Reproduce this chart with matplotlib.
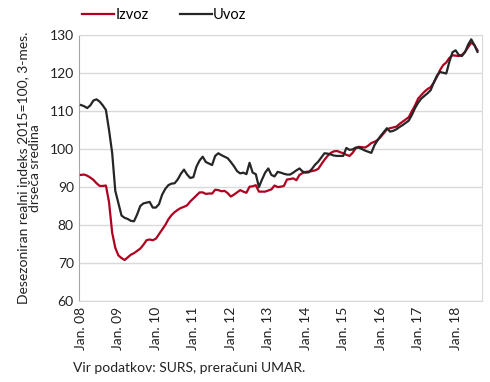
import matplotlib
matplotlib.use("Agg")
import matplotlib.pyplot as plt
import numpy as np

plt.rcParams['font.family'] = ['Lato', 'DejaVu Sans']

years = ["08", "09", "10", "11", "12", "13", "14", "15", "16", "17", "18"]
tick_labels = ["Jan. " + y for y in years]

izvoz = [93.2, 93.3, 93.0, 92.5, 91.9, 91.0, 90.3, 90.3, 90.4, 86.0,
         78.0, 74.0, 72.0, 71.3, 70.8, 71.5, 72.2, 72.6, 73.2, 73.8,
         74.8, 76.0, 76.2, 76.0, 76.4, 77.6, 78.8, 80.0, 81.5, 82.6,
         83.4, 84.0, 84.5, 84.8, 85.2, 86.2, 87.0, 87.8, 88.6, 88.6,
         88.2, 88.3, 88.3, 89.3, 89.2, 88.9, 89.0, 88.4, 87.5, 88.0,
         88.6, 89.2, 88.8, 88.5, 90.1, 90.2, 90.5, 88.8, 88.8, 88.8,
         89.1, 89.4, 90.4, 90.0, 90.1, 90.3, 92.0, 92.1, 92.3, 91.8,
         93.2, 93.7, 94.0, 94.1, 94.2, 94.4, 94.8, 96.0, 97.2, 98.2,
         99.0, 99.4, 99.5, 99.2, 98.9, 98.5, 98.2, 99.0, 100.2, 100.6,
         100.5, 100.4, 100.9, 101.6, 101.9, 102.4, 103.2, 104.2, 105.2, 105.5,
         105.7, 105.9, 106.6, 107.2, 107.8, 108.4, 110.0, 111.5, 113.3, 114.2,
         115.1, 115.8, 116.3, 117.5, 119.0, 120.8, 122.1, 122.8, 124.0, 124.7,
         124.6, 124.5, 124.8, 125.6, 126.8, 128.0, 127.4, 126.0]

uvoz = [111.6, 111.3, 110.8, 111.5, 112.8, 113.1, 112.5, 111.5, 110.3, 105.0,
        99.0, 89.0, 85.8, 82.5, 81.9, 81.6, 81.1, 81.0, 82.8, 85.0,
        85.7, 85.9, 86.1, 84.6, 84.6, 85.5, 88.0, 89.5, 90.5, 90.9,
        91.0, 92.0, 93.5, 94.6, 93.3, 92.4, 92.6, 95.4, 97.0, 98.0,
        96.6, 96.2, 95.8, 98.2, 98.9, 98.4, 98.0, 97.6, 96.6, 95.5,
        94.2, 93.6, 93.8, 93.4, 96.4, 93.8, 93.4, 90.0, 92.0, 93.8,
        94.9, 93.2, 92.8, 94.0, 93.8, 93.5, 93.3, 93.3, 93.8, 94.4,
        94.9, 94.1, 93.8, 93.9, 94.8, 95.9, 96.7, 97.8, 98.9, 98.8,
        98.6, 98.3, 98.2, 98.2, 98.2, 100.3, 99.8, 99.9, 100.4, 100.4,
        100.0, 99.6, 99.3, 99.0, 101.0, 102.3, 103.5, 104.5, 105.5, 104.6,
        104.8, 105.2, 105.8, 106.3, 106.9, 107.5, 109.0, 110.8, 112.2, 113.3,
        114.0, 114.7, 115.5, 117.5, 119.3, 120.3, 120.1, 119.9, 123.0, 125.5,
        126.0, 124.8, 124.5, 125.5, 127.5, 128.9, 127.4, 125.6]

fig = plt.figure(figsize=(4.9, 3.82), dpi=100)
ax = fig.add_axes([0.162, 0.212, 0.822, 0.696])

x = np.arange(len(izvoz))
ax.plot(x, izvoz, color="#b00020", lw=1.6, label="Izvoz", zorder=3)
ax.plot(x, uvoz, color="#262626", lw=1.6, label="Uvoz", zorder=4)

ax.set_xlim(-0.5, 128.5)
ax.set_ylim(60, 130)
ax.set_yticks(np.arange(60, 131, 10))
ax.set_xticks(np.arange(0, 121, 12))
ax.set_xticklabels(tick_labels, rotation=90)
ax.tick_params(axis="both", length=0, labelsize=10, colors="#222222", pad=4)
ax.grid(axis="y", color="#d9d9d9", lw=1)
ax.set_axisbelow(True)
for s in ["top", "right", "bottom"]:
    ax.spines[s].set_color("#d9d9d9")
ax.spines["left"].set_color("#a6a6a6")

ax.set_ylabel("Desezoniran realni indeks 2015=100, 3-mes.\ndrseča sredina",
              fontsize=10, color="#222222", labelpad=6, linespacing=1.0)

ax.legend(loc="lower left", bbox_to_anchor=(-0.015, 1.015), ncol=2, frameon=False,
          fontsize=10.5, handlelength=2.2, handletextpad=0.1, columnspacing=2.1,
          borderaxespad=0.2)

fig.text(0.149, 0.025, "Vir podatkov: SURS, preračuni UMAR.", fontsize=10,
         color="#222222")

fig.savefig("out.png", dpi=100)
